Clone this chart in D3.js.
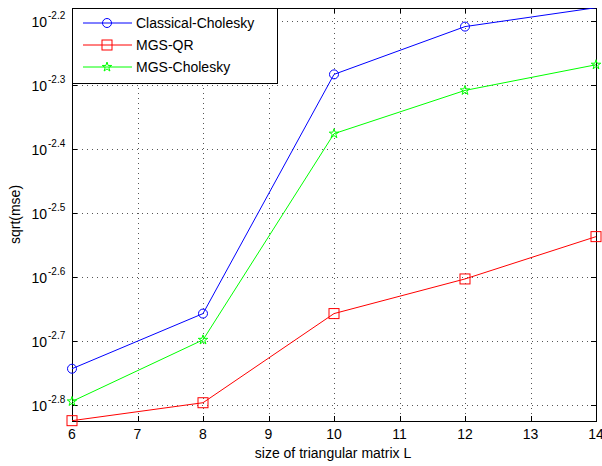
<!DOCTYPE html>
<html>
<head>
<meta charset="utf-8">
<script src="https://cdn.jsdelivr.net/npm/d3@7"></script>
<style>
  body { margin: 0; background: #fff; }
  text { font-family: Arial, "Liberation Sans", sans-serif; fill: #000; }
</style>
</head>
<body>
<svg id="chart"></svg>
<script>
// Data (y values are log10 of sqrt(mse)).
var sizes = [6, 8, 10, 12, 14];
var classicalCholesky = [-2.743, -2.657, -2.284, -2.2095, -2.18];
var mgsQr = [-2.824, -2.796, -2.657, -2.603, -2.537];
var mgsCholesky = [-2.794, -2.698, -2.3765, -2.309, -2.269];
var xTicks = [6, 7, 8, 9, 10, 11, 12, 13, 14];
var yTickExps = [-2.2, -2.3, -2.4, -2.5, -2.6, -2.7, -2.8];

var series = [
  { name: "Classical-Cholesky", color: "#0000ff", marker: "circle", values: classicalCholesky },
  { name: "MGS-QR", color: "#ff0000", marker: "square", values: mgsQr },
  { name: "MGS-Cholesky", color: "#00ff00", marker: "star", values: mgsCholesky }
];

var width = 602, height = 466;
var box = { left: 72, right: 596, top: 8, bottom: 421 };

var svg = d3.select("#chart")
  .attr("width", width)
  .attr("height", height);

var x = d3.scaleLinear().domain([6, 14]).range([box.left, box.right]);
var y = d3.scaleLog()
  .domain([Math.pow(10, -2.8245), Math.pow(10, -2.1805)])
  .range([box.bottom, box.top]);

var pw = box.right - box.left, ph = box.bottom - box.top;

svg.append("defs").append("clipPath").attr("id", "clip")
  .append("rect")
  .attr("x", box.left).attr("y", box.top)
  .attr("width", pw).attr("height", ph);

// Dotted grid at the major ticks
var grid = svg.append("g")
  .attr("stroke", "#555")
  .attr("stroke-width", 1)
  .attr("stroke-dasharray", "1,4");
grid.selectAll("line.gx").data(xTicks.slice(1, -1)).enter().append("line")
  .attr("x1", d => Math.round(x(d)) + 0.5).attr("x2", d => Math.round(x(d)) + 0.5)
  .attr("y1", box.top).attr("y2", box.bottom);
grid.selectAll("line.gy").data(yTickExps).enter().append("line")
  .attr("x1", box.left).attr("x2", box.right)
  .attr("y1", d => Math.round(y(Math.pow(10, d))) + 0.5)
  .attr("y2", d => Math.round(y(Math.pow(10, d))) + 0.5);

// Inward tick marks on all four sides
var ticks = svg.append("g").attr("stroke", "#000").attr("stroke-width", 1);
xTicks.forEach(d => {
  var px = Math.round(x(d)) + 0.5;
  ticks.append("line").attr("x1", px).attr("x2", px).attr("y1", box.bottom).attr("y2", box.bottom - 5);
  ticks.append("line").attr("x1", px).attr("x2", px).attr("y1", box.top).attr("y2", box.top + 5);
});
yTickExps.forEach(d => {
  var py = Math.round(y(Math.pow(10, d))) + 0.5;
  ticks.append("line").attr("x1", box.left).attr("x2", box.left + 5).attr("y1", py).attr("y2", py);
  ticks.append("line").attr("x1", box.right).attr("x2", box.right - 5).attr("y1", py).attr("y2", py);
});

// Axes frame
svg.append("rect")
  .attr("x", box.left + 0.5).attr("y", box.top + 0.5)
  .attr("width", pw).attr("height", ph)
  .attr("fill", "none").attr("stroke", "#000");

// Tick labels (the last one runs off the right edge, as in the original)
svg.append("g").selectAll("text").data(xTicks).enter().append("text")
  .attr("x", d => x(d)).attr("y", 439)
  .attr("text-anchor", "middle")
  .attr("font-size", 14)
  .text(d => d);

var yl = svg.append("g").selectAll("g").data(yTickExps).enter().append("g")
  .attr("transform", d => "translate(0," + y(Math.pow(10, d)) + ")");
yl.append("text")
  .attr("x", 47).attr("y", 6)
  .attr("text-anchor", "end")
  .attr("font-size", 14)
  .text("10");
yl.append("text")
  .attr("x", 48).attr("y", -2)
  .attr("font-size", 10)
  .text(d => d.toFixed(1));

// Axis titles
svg.append("text")
  .attr("x", (box.left + box.right) / 2 - 1).attr("y", 458)
  .attr("text-anchor", "middle")
  .attr("font-size", 14)
  .text("size of triangular matrix L");
svg.append("text")
  .attr("transform", "translate(20," + ((box.top + box.bottom) / 2) + ") rotate(-90)")
  .attr("text-anchor", "middle")
  .attr("font-size", 14)
  .text("sqrt(mse)");

// Marker shapes
function drawMarker(sel, kind, color) {
  if (kind === "circle") {
    sel.append("circle").attr("r", 4.5);
  } else if (kind === "square") {
    sel.append("rect").attr("x", -5).attr("y", -5).attr("width", 10).attr("height", 10);
  } else {
    sel.append("path").attr("d", d3.symbol(d3.symbolStar, 28)());
  }
  sel.attr("fill", "none").attr("stroke", color).attr("stroke-width", 1);
}

var line = d3.line()
  .x((d, i) => x(sizes[i]))
  .y(d => y(Math.pow(10, d)));

var [yMin, yMax] = y.domain().map(Math.log10);

series.forEach(s => {
  svg.append("path")
    .attr("clip-path", "url(#clip)")
    .attr("d", line(s.values))
    .attr("fill", "none")
    .attr("stroke", s.color)
    .attr("stroke-width", 1);
  // markers whose centre is outside the axes are not drawn
  s.values.forEach((v, i) => {
    if (v < yMin - 1e-6 || v > yMax + 1e-6) return;
    var g = svg.append("g")
      .attr("transform", "translate(" + x(sizes[i]) + "," + y(Math.pow(10, v)) + ")");
    drawMarker(g, s.marker, s.color);
  });
});

// Legend
var legend = svg.append("g");
legend.append("rect")
  .attr("x", box.left + 0.5).attr("y", box.top + 0.5)
  .attr("width", 205).attr("height", 75)
  .attr("fill", "#fff").attr("stroke", "#000");
var entry = legend.selectAll("g.entry").data(series).enter().append("g")
  .attr("transform", (d, i) => "translate(0," + (23 + i * 22) + ")");
entry.append("line")
  .attr("x1", 83).attr("x2", 132)
  .attr("stroke", d => d.color);
entry.append("g")
  .attr("transform", "translate(107,0)")
  .each(function(d) { drawMarker(d3.select(this), d.marker, d.color); });
entry.append("text")
  .attr("x", 136).attr("y", 5)
  .attr("font-size", 14)
  .text(d => d.name);
</script>
</body>
</html>
